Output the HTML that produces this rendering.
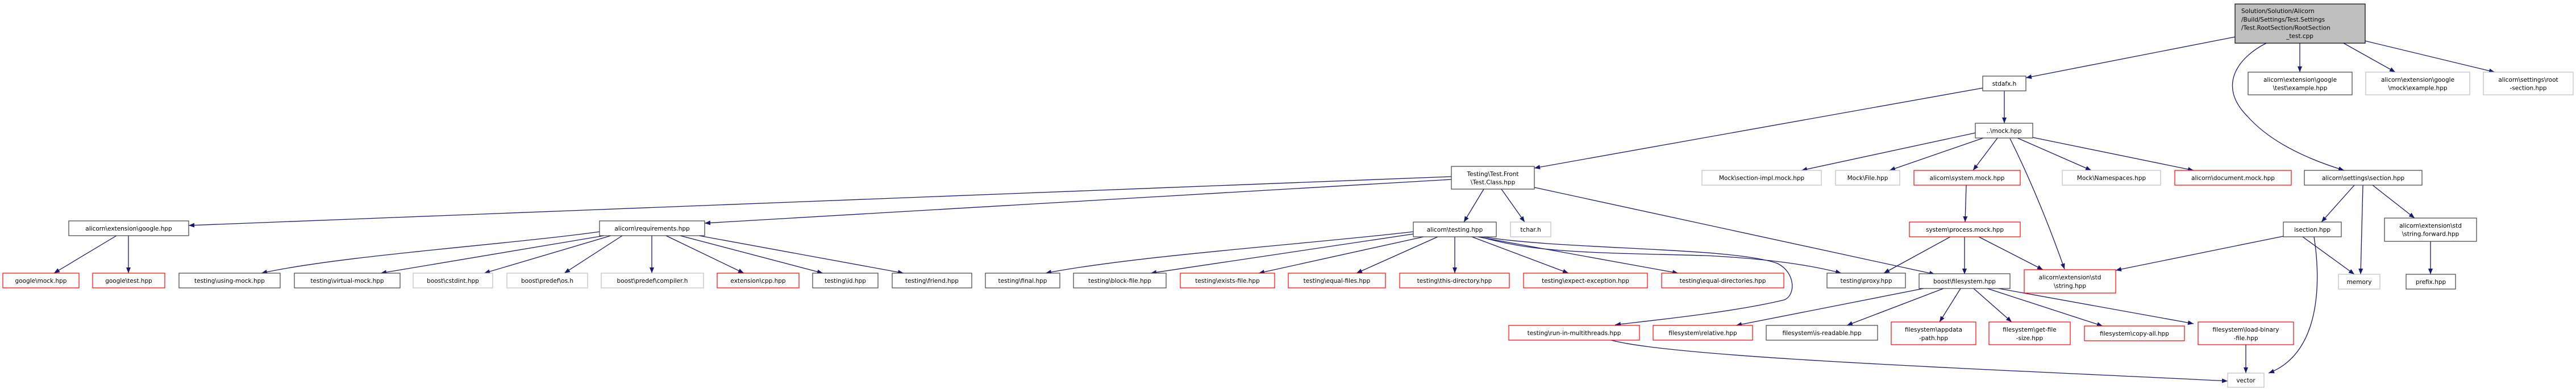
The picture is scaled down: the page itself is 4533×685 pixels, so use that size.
<!DOCTYPE html>
<html><head><meta charset="utf-8"><style>
html,body{margin:0;padding:0;background:#fff;}
svg{display:block;}
text{font-family:"DejaVu Sans","Liberation Sans",sans-serif;font-size:10.5px;fill:#000;}
.b{fill:#fff;stroke:#404040;stroke-width:1.2}
.g{fill:#fff;stroke:#bfbfbf;stroke-width:1.2}
.r{fill:#fff;stroke:#ff0000;stroke-width:1.2}
.e{fill:none;stroke:#191970;stroke-width:1.3}
</style></head><body>
<svg width="4533" height="685" viewBox="0 0 4533 685" xmlns="http://www.w3.org/2000/svg">
<defs><marker id="a" markerUnits="userSpaceOnUse" markerWidth="12" markerHeight="10" refX="10" refY="4" orient="auto"><path d="M0,0 L10,4 L0,8 z" fill="#191970"/></marker></defs>
<g marker-end="url(#a)">
<path class="e" d="M3933,65 L3565,137"/>
<path class="e" d="M4047,76 L4047,127"/>
<path class="e" d="M4124,76 L4215,127"/>
<path class="e" d="M4162,72 L4390,127"/>
<path class="e" d="M3988,76 C3940,100 3900,150 3955,205 C3995,250 4060,280 4125,300"/>
<path class="e" d="M3527,160 L3527,217"/>
<path class="e" d="M3489,155 L2700,296"/>
<path class="e" d="M3476,234 L3170,300"/>
<path class="e" d="M3490,243 L3325,300"/>
<path class="e" d="M3515,243 L3472,300"/>
<path class="e" d="M3550,243 L3680,300"/>
<path class="e" d="M3577,242 L3860,300"/>
<path class="e" d="M3537,244 C3565,300 3600,380 3633,474"/>
<path class="e" d="M3460,326 L3458,391"/>
<path class="e" d="M3432,417 L3315,481"/>
<path class="e" d="M3457,417 L3457,483"/>
<path class="e" d="M3482,417 L3595,475"/>
<path class="e" d="M4143,326 L4085,391"/>
<path class="e" d="M4158,326 L4154,483"/>
<path class="e" d="M4175,326 L4249,384"/>
<path class="e" d="M4018,416 L3723,476"/>
<path class="e" d="M4052,417 L4143,483"/>
<path class="e" d="M4072,417 C4082,480 4090,620 3992,657"/>
<path class="e" d="M4277,425 L4277,483"/>
<path class="e" d="M2554,311 L332,397"/>
<path class="e" d="M2554,316 L1240,393"/>
<path class="e" d="M2611,333 L2576,391"/>
<path class="e" d="M2642,333 L2683,391"/>
<path class="e" d="M2700,330 L3405,483"/>
<path class="e" d="M205,415 L95,481"/>
<path class="e" d="M226,415 L226,481"/>
<path class="e" d="M1055,408 C900,430 600,450 460,481"/>
<path class="e" d="M1063,415 L670,481"/>
<path class="e" d="M1075,415 L852,481"/>
<path class="e" d="M1095,415 L993,481"/>
<path class="e" d="M1147,415 L1147,481"/>
<path class="e" d="M1172,415 L1309,481"/>
<path class="e" d="M1197,415 L1448,481"/>
<path class="e" d="M1230,415 L1590,481"/>
<path class="e" d="M2487,408 C2300,430 2000,450 1840,481"/>
<path class="e" d="M2487,412 L2025,481"/>
<path class="e" d="M2505,417 L2215,481"/>
<path class="e" d="M2530,417 L2387,481"/>
<path class="e" d="M2560,417 L2560,481"/>
<path class="e" d="M2590,417 L2760,481"/>
<path class="e" d="M2600,417 L2953,481"/>
<path class="e" d="M2605,417 C2700,445 2800,445 3000,450 C3100,455 3180,465 3240,481"/>
<path class="e" d="M2610,417 C2750,440 3050,435 3128,464 C3160,480 3160,520 3140,528 C3050,550 2900,565 2842,572"/>
<path class="e" d="M3385,508 L3055,573"/>
<path class="e" d="M3420,508 L3250,573"/>
<path class="e" d="M3450,508 L3413,567"/>
<path class="e" d="M3473,508 L3540,567"/>
<path class="e" d="M3497,508 L3700,574"/>
<path class="e" d="M3517,508 L3860,570"/>
<path class="e" d="M2835,599 C2950,630 3500,650 3920,671"/>
<path class="e" d="M3952,607 L3952,657"/>
</g>

<rect x="3933" y="7" width="229" height="69" fill="#bfbfbf" stroke="#000" stroke-width="1.2"/>
<text x="3944" y="23">Solution/Solution/Alicorn</text>
<text x="3944" y="38">/Build/Settings/Test.Settings</text>
<text x="3944" y="52.5">/Test.RootSection/RootSection</text>
<text x="4047" y="67" text-anchor="middle">_test.cpp</text>

<g text-anchor="middle">
<rect class="b" x="3489" y="134" width="76" height="26"/><text x="3527" y="151">stdafx.h</text>
<rect class="b" x="3956" y="127" width="183" height="40"/><text x="4047.5" y="144">alicorn\extension\google</text><text x="4047.5" y="158.5">\test\example.hpp</text>
<rect class="g" x="4163" y="127" width="183" height="40"/><text x="4254.5" y="144">alicorn\extension\google</text><text x="4254.5" y="158.5">\mock\example.hpp</text>
<rect class="g" x="4370" y="127" width="158" height="40"/><text x="4449" y="144">alicorn\settings\root</text><text x="4449" y="158.5">-section.hpp</text>
<rect class="b" x="3476" y="217" width="101" height="26"/><text x="3526.5" y="234">..\mock.hpp</text>
<rect class="b" x="2554" y="293" width="146" height="40"/><text x="2627" y="310">Testing\Test.Front</text><text x="2627" y="324.5">\Test.Class.hpp</text>
<rect class="g" x="2995" y="300" width="210" height="26"/><text x="3100" y="317">Mock\section-impl.mock.hpp</text>
<rect class="g" x="3230" y="300" width="113" height="26"/><text x="3286.5" y="317">Mock\File.hpp</text>
<rect class="r" x="3368" y="300" width="187" height="26"/><text x="3461.5" y="317">alicorn\system.mock.hpp</text>
<rect class="g" x="3629" y="300" width="173" height="26"/><text x="3715.5" y="317">Mock\Namespaces.hpp</text>
<rect class="r" x="3827" y="300" width="205" height="26"/><text x="3929.5" y="317">alicorn\document.mock.hpp</text>
<rect class="b" x="4055" y="300" width="207" height="26"/><text x="4158.5" y="317">alicorn\settings\section.hpp</text>
<rect class="b" x="121" y="389" width="211" height="26"/><text x="226.5" y="406">alicorn\extension\google.hpp</text>
<rect class="b" x="1055" y="389" width="185" height="26"/><text x="1147.5" y="406">alicorn\requirements.hpp</text>
<rect class="b" x="2487" y="391" width="146" height="26"/><text x="2560" y="408">alicorn\testing.hpp</text>
<rect class="g" x="2658" y="391" width="71" height="26"/><text x="2693.5" y="408">tchar.h</text>
<rect class="r" x="3360" y="391" width="195" height="26"/><text x="3457.5" y="408">system\process.mock.hpp</text>
<rect class="b" x="4018" y="391" width="102" height="26"/><text x="4069" y="408">isection.hpp</text>
<rect class="b" x="4196" y="384" width="162" height="41"/><text x="4277" y="401">alicorn\extension\std</text><text x="4277" y="415.5">\string.forward.hpp</text>

<rect class="r" x="5" y="481" width="134" height="26"/><text x="72" y="498">google\mock.hpp</text>
<rect class="r" x="163" y="481" width="127" height="26"/><text x="226.5" y="498">google\test.hpp</text>
<rect class="b" x="315" y="481" width="178" height="26"/><text x="404" y="498">testing\using-mock.hpp</text>
<rect class="b" x="518" y="481" width="186" height="26"/><text x="611" y="498">testing\virtual-mock.hpp</text>
<rect class="g" x="727" y="481" width="140" height="26"/><text x="797" y="498">boost\cstdint.hpp</text>
<rect class="g" x="892" y="481" width="142" height="26"/><text x="963" y="498">boost\predef\os.h</text>
<rect class="g" x="1058" y="481" width="180" height="26"/><text x="1148" y="498">boost\predef\compiler.h</text>
<rect class="r" x="1262" y="481" width="144" height="26"/><text x="1334" y="498">extension\cpp.hpp</text>
<rect class="b" x="1430" y="481" width="115" height="26"/><text x="1487.5" y="498">testing\id.hpp</text>
<rect class="b" x="1570" y="481" width="140" height="26"/><text x="1640" y="498">testing\friend.hpp</text>
<rect class="b" x="1734" y="481" width="131" height="26"/><text x="1799.5" y="498">testing\final.hpp</text>
<rect class="b" x="1889" y="481" width="163" height="26"/><text x="1970.5" y="498">testing\block-file.hpp</text>
<rect class="r" x="2077" y="481" width="166" height="26"/><text x="2160" y="498">testing\exists-file.hpp</text>
<rect class="r" x="2267" y="481" width="171" height="26"/><text x="2352.5" y="498">testing\equal-files.hpp</text>
<rect class="r" x="2463" y="481" width="193" height="26"/><text x="2559.5" y="498">testing\this-directory.hpp</text>
<rect class="r" x="2681" y="481" width="218" height="26"/><text x="2790" y="498">testing\expect-exception.hpp</text>
<rect class="r" x="2924" y="481" width="215" height="26"/><text x="3031.5" y="498">testing\equal-directories.hpp</text>
<rect class="b" x="3215" y="481" width="138" height="26"/><text x="3284" y="498">testing\proxy.hpp</text>
<rect class="b" x="3377" y="482" width="160" height="26"/><text x="3457" y="499">boost\filesystem.hpp</text>
<rect class="r" x="3562" y="475" width="161" height="41"/><text x="3642.5" y="492">alicorn\extension\std</text><text x="3642.5" y="507">\string.hpp</text>
<rect class="g" x="4115" y="483" width="73" height="26"/><text x="4151.5" y="500">memory</text>
<rect class="b" x="4234" y="483" width="87" height="26"/><text x="4277.5" y="500">prefix.hpp</text>

<rect class="r" x="2655" y="573" width="230" height="26"/><text x="2770" y="590">testing\run-in-multithreads.hpp</text>
<rect class="r" x="2909" y="573" width="175" height="26"/><text x="2996.5" y="590">filesystem\relative.hpp</text>
<rect class="b" x="3108" y="573" width="196" height="26"/><text x="3206" y="590">filesystem\is-readable.hpp</text>
<rect class="r" x="3328" y="567" width="149" height="40"/><text x="3402.5" y="584">filesystem\appdata</text><text x="3402.5" y="599">-path.hpp</text>
<rect class="r" x="3500" y="567" width="143" height="40"/><text x="3571.5" y="584">filesystem\get-file</text><text x="3571.5" y="599">-size.hpp</text>
<rect class="r" x="3668" y="574" width="176" height="26"/><text x="3756" y="591">filesystem\copy-all.hpp</text>
<rect class="r" x="3868" y="567" width="168" height="40"/><text x="3952" y="584">filesystem\load-binary</text><text x="3952" y="599">-file.hpp</text>
<rect class="g" x="3920" y="657" width="64" height="25"/><text x="3952" y="673.5">vector</text>
</g>
</svg>
</body></html>
